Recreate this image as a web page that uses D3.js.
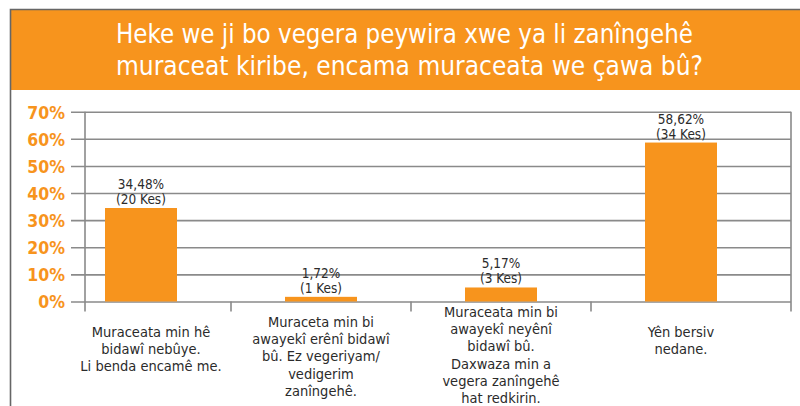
<!DOCTYPE html>
<html>
<head>
<meta charset="utf-8">
<script src="https://cdn.jsdelivr.net/npm/d3@7"></script>
<style>
  body { margin: 0; background: white; }
  svg { display: block; }
  text { font-family: "Liberation Sans Narrow", "DejaVu Sans Condensed", sans-serif; }
</style>
</head>
<body>
<div id="chart"></div>
<script>
// data
var titleLines = ["Heke we ji bo vegera peywira xwe ya li zanîngehê",
                  "muraceat kiribe, encama muraceata we çawa bû?"];
var titleWidths = [577, 587];
var categories = [
    ["Muraceata min hê", "bidawî nebûye.", "Li benda encamê me."],
    ["Muraceta min bi", "awayekî erênî bidawî", "bû. Ez vegeriyam/", "vedigerim", "zanîngehê."],
    ["Muraceata min bi", "awayekî neyênî", "bidawî bû.", "Daxwaza min a", "vegera zanîngehê", "hat redkirin."],
    ["Yên bersiv", "nedane."]
];
var percents = [34.48, 1.72, 5.17, 58.62];
var counts = [20, 1, 3, 34];
var yTicks = [0, 10, 20, 30, 40, 50, 60, 70];

var orange = "#f7941d";
var grid = "#8a8a8a";

var W = 800, H = 406;
var svg = d3.select("#chart").append("svg")
    .attr("width", W)
    .attr("height", H);

// frame + header
svg.append("rect")
    .attr("x", 10).attr("y", 9)
    .attr("width", W - 10).attr("height", 81)
    .attr("fill", orange);
svg.append("path")
    .attr("d", "M10.5," + H + "V9.5H" + W)
    .attr("fill", "none")
    .attr("stroke", "#666")
    .attr("stroke-width", 1.6);

svg.append("g").selectAll("text")
    .data(titleLines)
    .enter().append("text")
    .attr("x", (d, i) => 116 + titleWidths[i] / 2)
    .attr("y", (d, i) => 43 + i * 31.6)
    .attr("text-anchor", "middle")
    .attr("fill", "white")
    .attr("font-size", 27)
    .attr("textLength", (d, i) => titleWidths[i])
    .attr("lengthAdjust", "spacingAndGlyphs")
    .text(d => d);

// scales
var left = 85, right = 791;
var yS = d3.scaleLinear().domain([0, 70]).range([301.5, 111.7]);
var xS = d3.scaleBand()
    .domain(d3.range(categories.length))
    .range([51, 771])
    .paddingInner(0.6)
    .paddingOuter(0.3);

var g = svg.append("g");

// y axis with gridlines
var yAxis = g.append("g")
    .attr("transform", "translate(" + left + ",0)")
    .call(d3.axisLeft(yS).tickValues(yTicks).tickSize(-(right - left)).tickPadding(20).tickFormat(d => d + "%"));
yAxis.select(".domain").remove();
yAxis.selectAll(".tick line")
    .attr("x1", -14)
    .attr("stroke", grid)
    .attr("stroke-width", 1.6);
yAxis.selectAll(".tick text")
    .attr("fill", orange)
    .attr("font-size", 17.5)
    .attr("font-weight", "bold")
    .attr("dy", "0.36em");

// vertical frame lines and category ticks
var step = xS.step();
var sepX = [left].concat(d3.range(1, categories.length).map(i => xS(i) - step * 0.3), [right]);
g.selectAll(".sep")
    .data(sepX)
    .enter().append("line")
    .attr("x1", d => d).attr("x2", d => d)
    .attr("y1", (d, i) => (i == 0 || i == sepX.length - 1) ? yS(70) : yS(0))
    .attr("y2", yS(0) + 10)
    .attr("stroke", grid)
    .attr("stroke-width", 1.6);

// bars
g.selectAll(".bar")
    .data(percents)
    .enter().append("rect")
    .attr("x", (d, i) => xS(i))
    .attr("y", d => yS(d))
    .attr("width", xS.bandwidth())
    .attr("height", d => yS(0) - yS(d))
    .attr("fill", orange);

// value labels
var vl = g.selectAll(".val")
    .data(percents)
    .enter().append("text")
    .attr("text-anchor", "middle")
    .attr("fill", "#2b2b2b")
    .attr("font-size", 13.5);
vl.append("tspan")
    .attr("x", (d, i) => xS(i) + xS.bandwidth() / 2)
    .attr("y", d => yS(d) - 19)
    .text(d => d.toFixed(2).replace(".", ",") + "%");
vl.append("tspan")
    .attr("x", (d, i) => xS(i) + xS.bandwidth() / 2)
    .attr("y", d => yS(d) - 4)
    .text((d, i) => "(" + counts[i] + " Kes)");

// category labels
categories.forEach(function(lines, i) {
    var y0 = 337 - Math.max(0, lines.length - 4) * 10;
    g.append("text")
        .attr("text-anchor", "middle")
        .attr("fill", "#2b2b2b")
        .attr("font-size", 14.5)
        .selectAll("tspan")
        .data(lines)
        .enter().append("tspan")
        .attr("x", xS(i) + xS.bandwidth() / 2 + (i == 0 ? 10 : 0))
        .attr("y", (d, j) => y0 + j * 17.2)
        .text(d => d);
});
</script>
</body>
</html>
